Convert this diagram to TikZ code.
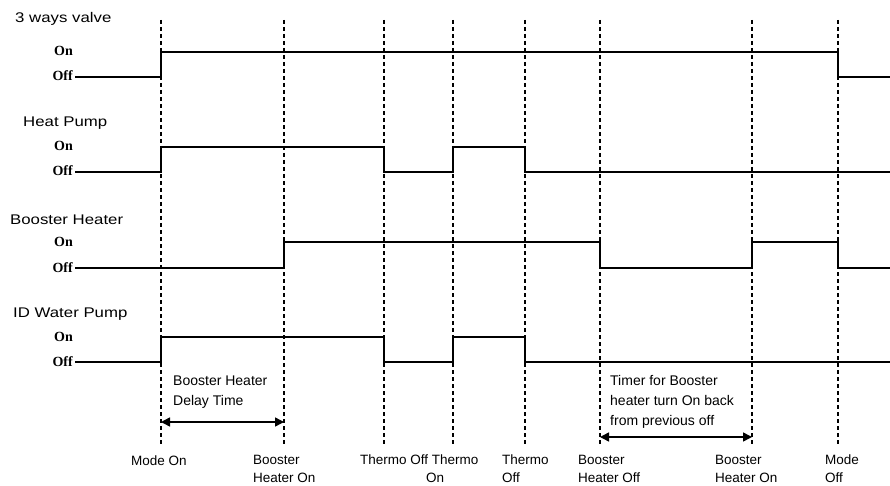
\documentclass[tikz,border=0pt]{standalone}
\usepackage{fontspec}
\setmainfont{Liberation Sans}
\newfontfamily\levelfont{Liberation Serif}
\usetikzlibrary{arrows.meta}
\begin{document}
\begin{tikzpicture}[x=1pt,y=-1pt,
  sig/.style={line width=2pt, line join=miter},
  guide/.style={line width=1.2pt, dash pattern=on 4pt off 3pt},
  sigtitle/.style={anchor=base west, inner sep=0pt, font=\fontsize{14}{17}\selectfont},
  lvl/.style={anchor=base east, inner sep=0pt, font=\levelfont\bfseries\fontsize{14}{16}\selectfont},
  note/.style={anchor=base west, inner sep=0pt, align=left, font=\fontsize{14}{20}\selectfont},
  evt/.style={anchor=base west, inner sep=0pt, align=left, font=\fontsize{13.5}{18}\selectfont},
  span/.style={line width=1.5pt, {Triangle[length=9pt,width=9pt]}-{Triangle[length=9pt,width=9pt]}}
]
\useasboundingbox (0,0) rectangle (890,486);
\fill[white] (0,0) rectangle (890,486);

% event time coordinates (top of guides)
\coordinate (mon)    at (161,20);
\coordinate (bhon)   at (284,20);
\coordinate (thoff)  at (384,20);
\coordinate (thon)   at (453,20);
\coordinate (thoffb) at (525,20);
\coordinate (bhoff)  at (600,20);
\coordinate (bhonb)  at (752,20);
\coordinate (moff)   at (838,20);
\coordinate (guideend) at (0,446);
\coordinate (start) at (75,0);
\coordinate (finish) at (890,0);

% levels
\coordinate (vOn)  at (0,52);   \coordinate (vOff)  at (0,77);
\coordinate (hOn)  at (0,147);  \coordinate (hOff)  at (0,172);
\coordinate (bOn)  at (0,242);  \coordinate (bOff)  at (0,268);
\coordinate (wOn)  at (0,337);  \coordinate (wOff)  at (0,362);

% dashed guides
\foreach \e in {mon,bhon,thoff,thon,thoffb,bhoff,bhonb,moff}
  \draw[guide] (\e) -- (\e |- guideend);

% titles
\node[sigtitle] (t1) at (15,23)  {\scalebox{1.2}[1]{3 ways valve}};
\node[sigtitle] (t2) at (23,127) {\scalebox{1.2}[1]{Heat Pump}};
\node[sigtitle] (t3) at (10,225) {\scalebox{1.2}[1]{Booster Heater}};
\node[sigtitle] (t4) at (13,317) {\scalebox{1.2}[1]{ID Water Pump}};

% On / Off labels
\foreach \l in {v,h,b,w}{
  \node[lvl] at ([yshift=-4pt]73,0 |- \l On)  {On};
  \node[lvl] at ([yshift=-4pt]73,0 |- \l Off) {Off};
}

% 3 ways valve
\draw[sig] (start |- vOff) -- (mon |- vOff) -- (mon |- vOn) -- (moff |- vOn)
  -- (moff |- vOff) -- (finish |- vOff);
% Heat pump
\draw[sig] (start |- hOff) -- (mon |- hOff) -- (mon |- hOn) -- (thoff |- hOn)
  -- (thoff |- hOff) -- (thon |- hOff) -- (thon |- hOn) -- (thoffb |- hOn)
  -- (thoffb |- hOff) -- (finish |- hOff);
% Booster heater
\draw[sig] (start |- bOff) -- (bhon |- bOff) -- (bhon |- bOn) -- (bhoff |- bOn)
  -- (bhoff |- bOff) -- (bhonb |- bOff) -- (bhonb |- bOn) -- (moff |- bOn)
  -- (moff |- bOff) -- (finish |- bOff);
% ID water pump
\draw[sig] (start |- wOff) -- (mon |- wOff) -- (mon |- wOn) -- (thoff |- wOn)
  -- (thoff |- wOff) -- (thon |- wOff) -- (thon |- wOn) -- (thoffb |- wOn)
  -- (thoffb |- wOff) -- (finish |- wOff);

% span arrows
\coordinate (a1) at (0,422);
\coordinate (a2) at (0,437);
\draw[span] (mon |- a1) -- (bhon |- a1);
\draw[span] (bhoff |- a2) -- (bhonb |- a2);

% notes (anchored at the baseline of their last line)
\node[note] (n1) at (173,405) {Booster Heater\\Delay Time};
\node[note] (n2) at (610,425) {Timer for Booster\\heater turn On back\\from previous off};

% event labels (anchored at the baseline of their last line)
\node[evt] (e1) at (131,465) {Mode On};
\node[evt] (e2) at (253,482) {Booster\\Heater On};
\node[evt] (e3) at (360,482) {Thermo Off Thermo\\\hspace*{66pt}On};
\node[evt] (e4) at (502,482) {Thermo\\Off};
\node[evt] (e5) at (578,482) {Booster\\Heater Off};
\node[evt] (e6) at (715,482) {Booster\\Heater On};
\node[evt] (e7) at (825,482) {Mode\\Off};
\end{tikzpicture}
\end{document}
